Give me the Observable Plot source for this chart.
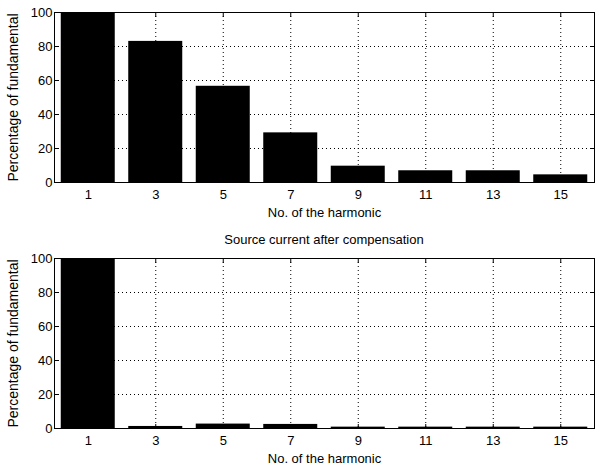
<!DOCTYPE html>
<html>
<head>
<meta charset="utf-8">
<script src="https://cdn.jsdelivr.net/npm/d3@7"></script>
<script src="https://cdn.jsdelivr.net/npm/@observablehq/plot@0.6"></script>
<style>
  html, body { margin: 0; padding: 0; background: #fff; }
  #wrap { position: relative; width: 596px; height: 468px; overflow: hidden; font-family: "Liberation Sans", Arial, sans-serif; }
  .panel { position: absolute; left: 0; }
  #title2 { position: absolute; left: 54px; width: 540px; top: 232px; text-align: center; font-size: 13px; color: #000; }
  svg g[aria-label="y-axis label"] text { font-size: 14px; }
</style>
</head>
<body>
<div id="wrap">
  <div class="panel" id="p1" style="top:0px"></div>
  <div id="title2"></div>
  <div class="panel" id="p2" style="top:246px"></div>
</div>
<script>
const harmonics = [1, 3, 5, 7, 9, 11, 13, 15];
const before = [100, 83, 56.6, 29.2, 9.6, 6.9, 6.9, 4.5];
const after = [100, 1.2, 2.6, 2.4, 0.8, 0.8, 0.8, 0.8];
const yTicks = [0, 20, 40, 60, 80, 100];
const xLabel = "No. of the harmonic";
const yLabel = "Percentage of fundamental";
const title2 = "Source current after compensation";

function panel(values) {
  const data = harmonics.map((h, i) => ({h, v: values[i]}));
  return Plot.plot({
    width: 596,
    height: 222,
    marginTop: 12,
    marginBottom: 40,
    marginLeft: 54,
    marginRight: 2,
    style: {fontFamily: "Liberation Sans, Arial, sans-serif", fontSize: "13px", color: "#000", background: "#fff"},
    x: {domain: [0, 16]},
    y: {domain: [0, 100]},
    marks: [
      Plot.gridX(harmonics, {stroke: "#000", strokeOpacity: 1, strokeDasharray: "1,3"}),
      Plot.gridY(yTicks.slice(1), {stroke: "#000", strokeOpacity: 1, strokeDasharray: "1,3"}),
      Plot.rectY(data, {x1: d => d.h - 0.8, x2: d => d.h + 0.8, y1: 0, y2: "v", fill: "#000"}),
      Plot.axisX({anchor: "bottom", ticks: harmonics, tickSize: -4, text: null, label: null}),
      Plot.axisX({anchor: "top", ticks: harmonics, tickSize: -4, text: null, label: null}),
      Plot.axisX({anchor: "bottom", ticks: harmonics, tickSize: 0, tickPadding: 7, tickFormat: d => String(d),
        label: xLabel, labelAnchor: "center", labelOffset: 34, labelArrow: "none"}),
      Plot.axisY({anchor: "left", ticks: yTicks, tickSize: -4, text: null, label: null}),
      Plot.axisY({anchor: "right", ticks: yTicks, tickSize: -4, text: null, label: null}),
      Plot.axisY({anchor: "left", ticks: yTicks, tickSize: 0, tickPadding: 2, tickFormat: d => String(d),
        label: yLabel, labelAnchor: "center", labelOffset: 46, labelArrow: "none"}),
      Plot.frame({stroke: "#000"})
    ]
  });
}

document.getElementById("p1").appendChild(panel(before));
document.getElementById("p2").appendChild(panel(after));
document.getElementById("title2").textContent = title2;
</script>
</body>
</html>
